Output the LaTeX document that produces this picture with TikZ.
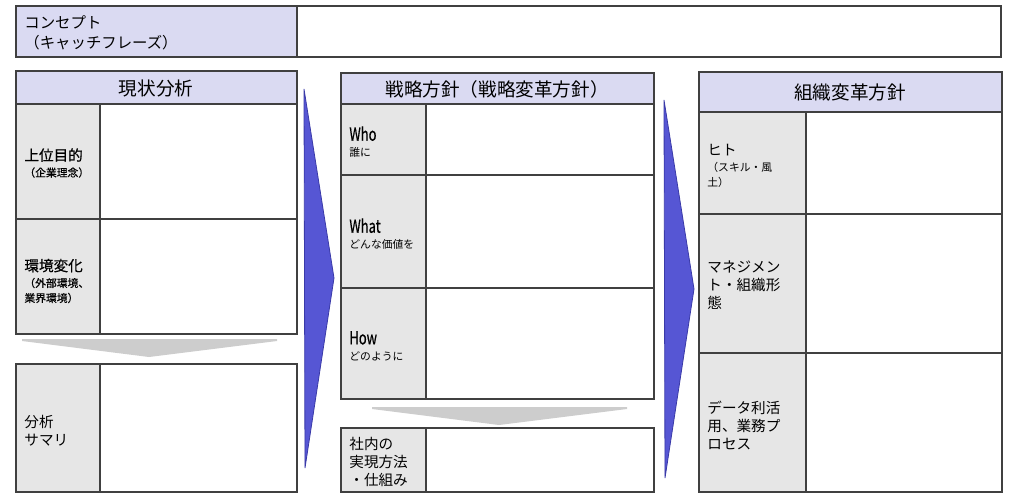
\documentclass[tikz,border=0pt]{standalone}
\usepackage{fontspec}
\setmainfont{Noto Sans CJK JP}
\newfontfamily\boldjp{Noto Sans CJK JP}[FakeBold=0.6]
\definecolor{headfill}{RGB}{218,218,242}
\definecolor{tagfill}{RGB}{230,230,230}
\definecolor{flowgray}{RGB}{205,205,205}
\definecolor{flowblue}{RGB}{86,86,212}
\definecolor{flowedge}{RGB}{58,58,168}
\newcommand{\smalljp}{\fontsize{5.4}{7.5}\selectfont}
\newcommand{\qword}[1]{\scalebox{0.72}[1]{\boldjp\fontsize{9}{9}\selectfont #1}}

\begin{document}
\begin{tikzpicture}[x=0.5pt,y=-0.5pt,
  box/.style={draw=black!75,line width=0.6pt},
  headtxt/.style={inner sep=0pt,font=\fontsize{9.3}{11}\selectfont},
  tagtxt/.style={anchor=west,align=left,inner sep=0pt,font=\fontsize{7.3}{9}\selectfont}]
\useasboundingbox (0,0) rectangle (1024,494);

% Concept line
\draw[box,fill=headfill] (16,6) rectangle (297,57);
\draw[box,fill=white] (297,6) rectangle (1001,57);
\node[tagtxt,font=\fontsize{7.7}{10}\selectfont] (concept) at (24,33) {コンセプト\\（キャッチフレーズ）};

% Current state
\draw[box,fill=headfill] (16,71) rectangle (297,104);
\node[headtxt] (nowhead) at (156,88) {現状分析};
\draw[box,fill=tagfill] (16,104) rectangle (100,219);
\draw[box,fill=white] (100,104) rectangle (297,219);
\node[tagtxt] (goal) at (24,163) {\boldjp 上位目的\\[-1pt]\smalljp\boldjp （企業理念）};
\draw[box,fill=tagfill] (16,219) rectangle (100,334);
\draw[box,fill=white] (100,219) rectangle (297,334);
\node[tagtxt] (change) at (24,281) {\boldjp 環境変化\\[-1pt]\smalljp\boldjp （外部環境、\\[-1.5pt]\smalljp\boldjp 業界環境）};
\fill[flowgray] (22,339) -- (277,339) -- (277,341) -- (149,357) -- (22,341) -- cycle;
\draw[box,fill=tagfill] (16,364) rectangle (100,492);
\draw[box,fill=white] (100,364) rectangle (297,492);
\node[tagtxt] (summary) at (24,431) {分析\\サマリ};

% Strategy
\draw[box,fill=headfill] (341,73) rectangle (654,104);
\node[headtxt] (planhead) at (497,89) {戦略方針（戦略変革方針）};
\draw[box,fill=tagfill] (341,104) rectangle (426,175);
\draw[box,fill=white] (426,104) rectangle (654,175);
\node[tagtxt] (who) at (349,142) {\qword{Who}\\[-1pt]\smalljp 誰に};
\draw[box,fill=tagfill] (341,175) rectangle (426,288);
\draw[box,fill=white] (426,175) rectangle (654,288);
\node[tagtxt] (what) at (349,234) {\qword{What}\\[-1pt]\smalljp どんな価値を};
\draw[box,fill=tagfill] (341,288) rectangle (426,399);
\draw[box,fill=white] (426,288) rectangle (654,399);
\node[tagtxt] (how) at (349,346) {\qword{How}\\[-1pt]\smalljp どのように};
\fill[flowgray] (372,407) -- (627,407) -- (627,409) -- (499,425) -- (372,409) -- cycle;
\draw[box,fill=tagfill] (341,428) rectangle (426,492);
\draw[box,fill=white] (426,428) rectangle (654,492);
\node[tagtxt] (inhouse) at (349,462) {社内の\\実現方法\\・仕組み};

% Organisation
\draw[box,fill=headfill] (699,72) rectangle (1002,112);
\node[headtxt] (orghead) at (850,92) {組織変革方針};
\draw[box,fill=tagfill] (699,112) rectangle (806,214);
\draw[box,fill=white] (806,112) rectangle (1002,214);
\node[tagtxt] (people) at (707,166) {ヒト\\[-1pt]\smalljp （スキル・風\\[-1.5pt]\smalljp 土）};
\draw[box,fill=tagfill] (699,214) rectangle (806,353);
\draw[box,fill=white] (806,214) rectangle (1002,353);
\node[tagtxt] (manage) at (707,285) {マネジメン\\ト・組織形\\態};
\draw[box,fill=tagfill] (699,353) rectangle (806,492);
\draw[box,fill=white] (806,353) rectangle (1002,492);
\node[tagtxt] (data) at (707,425) {データ利活\\用、業務プ\\ロセス};

% Blue arrows
\draw[fill=flowblue,draw=flowedge,line width=0.4pt] (304,89) -- (334,278) -- (305,468) -- cycle;
\draw[fill=flowblue,draw=flowedge,line width=0.4pt] (664,100) -- (694,289) -- (665,478) -- cycle;
\end{tikzpicture}
\end{document}
